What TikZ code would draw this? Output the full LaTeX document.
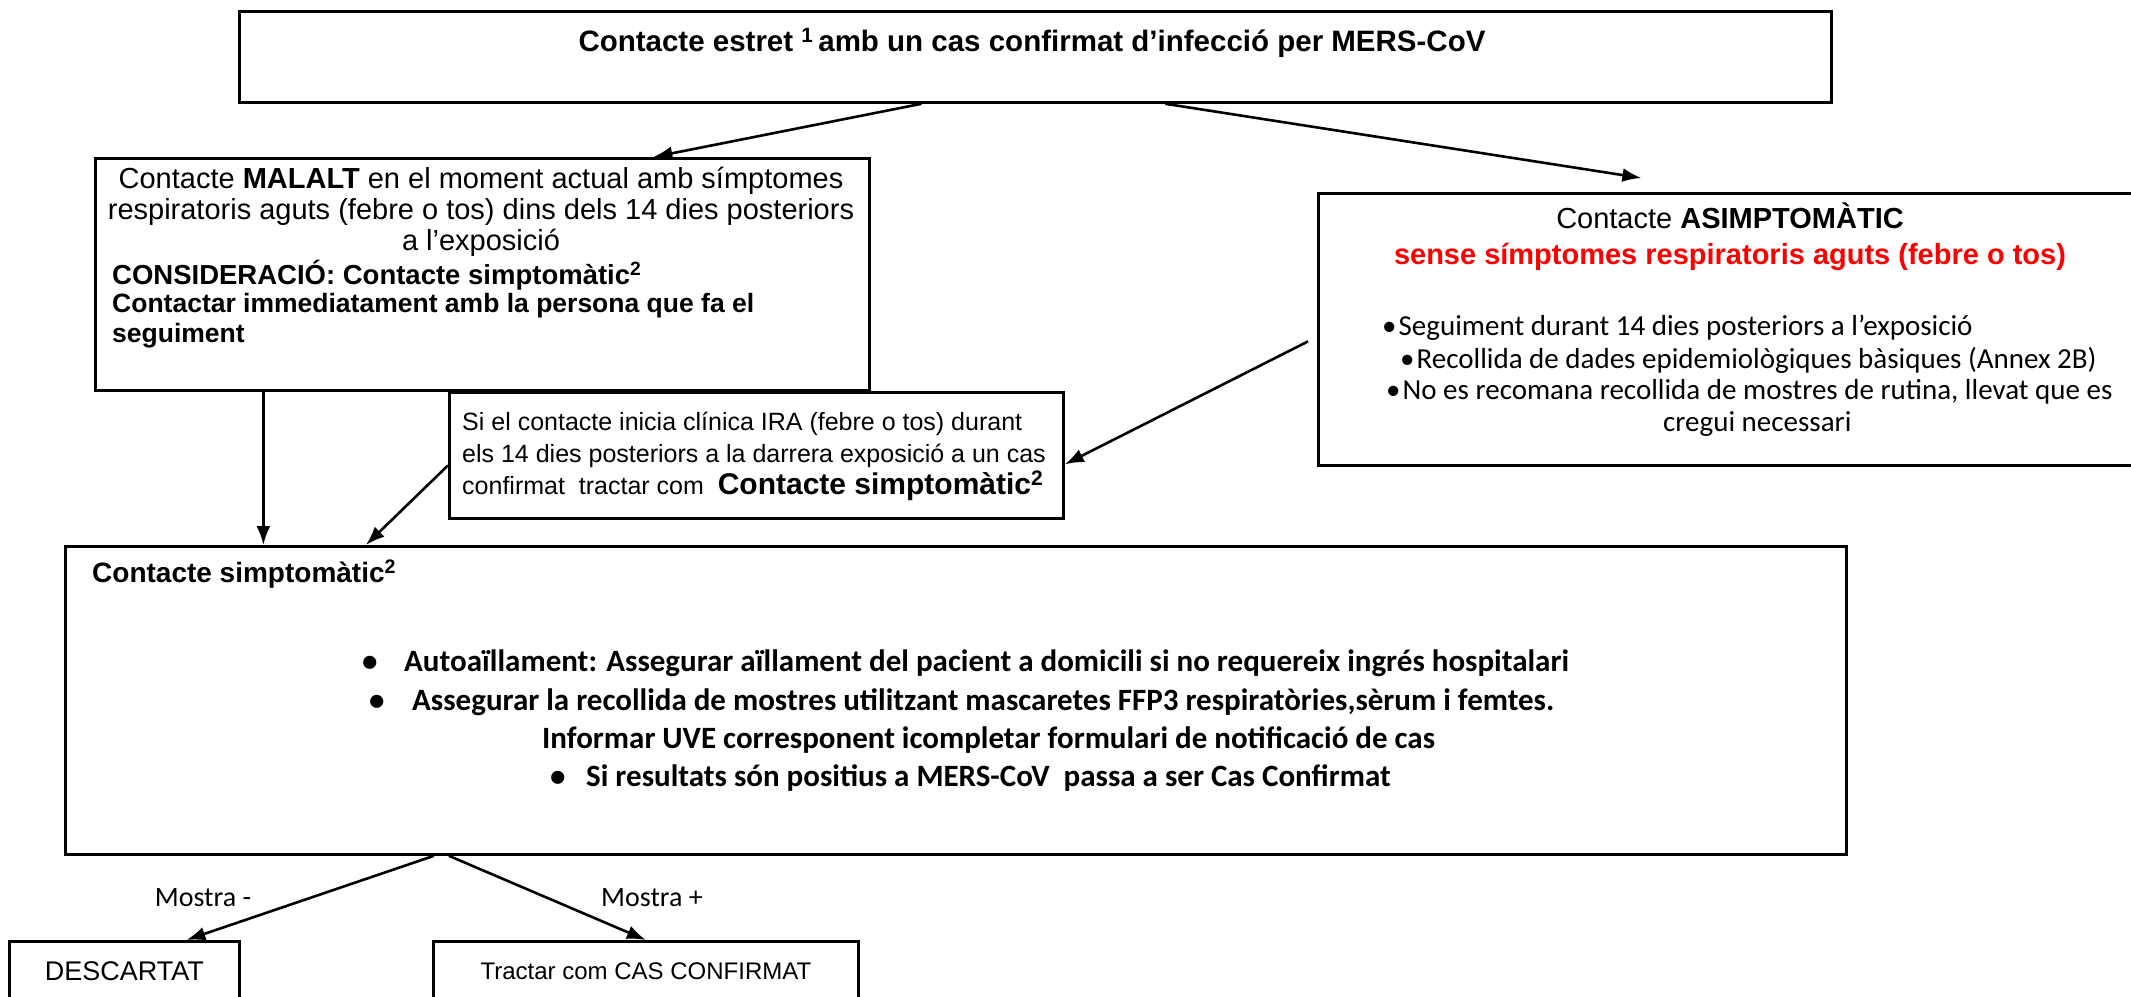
\documentclass[tikz,border=0pt]{standalone}
\usepackage{fontspec}
\setmainfont{Liberation Sans}
\newfontfamily\calibri{Carlito}
\usetikzlibrary{arrows.meta}

\begin{document}
\begin{tikzpicture}[x=1pt,y=-1pt,
  box/.style={draw,line width=2.8pt,inner sep=0pt,anchor=north west},
  txt/.style={inner sep=0pt,align=center},
  con/.style={->,line width=2.6pt,>={Latex[length=19pt,width=14pt]}}]
\useasboundingbox (0,0) rectangle (2131,996);
\clip (0,0) rectangle (2131,996);

% boxes
\node[box,minimum width=1592pt,minimum height=91pt] (top) at (238,10) {};
\node[box,minimum width=774pt,minimum height=232pt] (ill) at (94,157) {};
\node[box,minimum width=828pt,minimum height=272pt] (asym) at (1317,192) {};
\node[box,minimum width=614pt,minimum height=126pt] (note) at (448,391) {};
\node[box,minimum width=1781pt,minimum height=308pt] (sym) at (64,545) {};
\node[box,minimum width=230pt,minimum height=60pt,font=\fontsize{27}{30}\selectfont] (neg) at (8,940) {DESCARTAT};
\node[box,minimum width=425pt,minimum height=60pt,font=\fontsize{24}{30}\selectfont] (pos) at (432,940) {Tractar com CAS CONFIRMAT};

% texts
\node[txt,font=\bfseries\fontsize{29.5}{31}\selectfont] (toptxt) at (1032,43) {Contacte estret \textsuperscript{1}\,amb un cas confirmat d’infecció per MERS-CoV};

\node[txt,font=\fontsize{29}{31}\selectfont] (ill1) at (481,212) {Contacte \textbf{MALALT} en el moment actual amb símptomes\\respiratoris aguts (febre o tos) dins dels 14 dies posteriors\\a l’exposició};
\node[txt,anchor=west,font=\bfseries\fontsize{27.5}{31}\selectfont] (ill2) at (112,275) {CONSIDERACIÓ: Contacte simptomàtic\textsuperscript{2}};
\node[txt,anchor=west,align=left,font=\bfseries\fontsize{26.5}{30}\selectfont] (ill3) at (112,321) {Contactar immediatament amb la persona que fa el\\seguiment};

\node[txt,font=\fontsize{29}{36}\selectfont] (asym1) at (1730,237) {Contacte \textbf{ASIMPTOMÀTIC}\\\textcolor{red}{\textbf{sense símptomes respiratoris aguts (febre o tos)}}};
\node[txt,anchor=west,font=\calibri\fontsize{29}{32}\selectfont] (asym2) at (1382,328) {•\hspace{2pt}Seguiment durant 14 dies posteriors a l’exposició};
\node[txt,anchor=west,font=\calibri\fontsize{29}{32}\selectfont] (asym3) at (1400,360) {•\hspace{2pt}Recollida de dades epidemiològiques bàsiques (Annex 2B)};
\node[txt,anchor=west,font=\calibri\fontsize{29}{32}\selectfont] (asym4) at (1386,392) {•\hspace{2pt}No es recomana recollida de mostres de rutina, llevat que es};
\node[txt,anchor=west,font=\calibri\fontsize{29}{32}\selectfont] (asym5) at (1663,424) {cregui necessari};

\node[txt,anchor=west,align=left,font=\fontsize{25}{32}\selectfont] (note1) at (462,456) {Si el contacte inicia clínica IRA (febre o tos) durant\\els 14 dies posteriors a la darrera exposició a un cas\\confirmat\ \ tractar com\ \ {\bfseries\fontsize{30}{32}\selectfont Contacte simptomàtic\textsuperscript{2}}};

\node[txt,anchor=west,font=\bfseries\fontsize{28}{31}\selectfont] (symhead) at (92,574) {Contacte simptomàtic\textsuperscript{2}};
\node[txt,anchor=west,font=\calibri\bfseries\fontsize{31}{36}\selectfont] (sym1) at (362,663) {\makebox[42pt][l]{•}Autoaïllament: Assegurar aïllament del pacient a domicili si no requereix ingrés hospitalari};
\node[txt,anchor=west,font=\calibri\bfseries\fontsize{31}{36}\selectfont] (sym2) at (369,702) {\makebox[43pt][l]{•}Assegurar la recollida de mostres utilitzant mascaretes FFP3 respiratòries,sèrum i femtes.};
\node[txt,anchor=west,font=\calibri\bfseries\fontsize{31}{36}\selectfont] (sym3) at (542,740) {Informar UVE corresponent icompletar formulari de notificació de cas};
\node[txt,anchor=west,font=\calibri\bfseries\fontsize{31}{36}\selectfont] (sym4) at (550,778) {\makebox[36pt][l]{•}Si resultats són positius a MERS-CoV\ \ passa a ser Cas Confirmat};

\node[txt,font=\calibri\fontsize{28}{30}\selectfont] (mneg) at (203,898) {Mostra -};
\node[txt,font=\calibri\fontsize{28}{30}\selectfont] (mpos) at (652,898) {Mostra +};

% connectors
\draw[con] ([xshift=-114pt]top.south) -- ([xshift=171pt]ill.north);
\draw[con] ([xshift=130pt]top.south) -- ([xshift=-91pt,yshift=14pt]asym.north);
\draw[con] ([xshift=-219pt]ill.south) -- ([xshift=-219pt]ill.south |- sym.north);
\draw[con] ([yshift=-10pt]note.west) -- ([xshift=-590pt]sym.north);
\draw[con] ([xshift=-9pt,yshift=-12pt]asym.west) -- ([yshift=-9pt]note.east);
\draw[con] ([xshift=-522pt]sym.south) -- ([xshift=62pt]neg.north);
\draw[con] ([xshift=-507pt]sym.south) -- (pos.north);
\end{tikzpicture}
\end{document}
